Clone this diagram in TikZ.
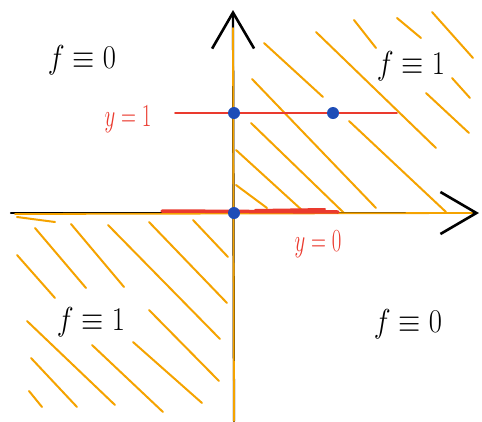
\documentclass[tikz,border=0pt]{standalone}
\usepackage{amsmath, amssymb}
\usepackage{graphicx}
\usepackage{tikz}
\usetikzlibrary{arrows.meta, positioning, calc}
\definecolor{hatchorange}{HTML}{F5A300}
\definecolor{penred}{HTML}{EA3A2E}
\definecolor{penblue}{HTML}{1E4DB7}
\newcommand{\bigtext}[1]{\scalebox{1.38}[1.6]{\huge #1}}
\newcommand{\redtext}[1]{\scalebox{1.0}[1.55]{\huge #1}}

\begin{document}
\begin{tikzpicture}[
    x=1pt, y=-1pt,
    line cap=round,
    axis/.style={
        draw=black,
        line width=2.2pt,
        -{Straight Barb[length=36pt, width=42pt, line width=2.6pt]}
    },
    axisline/.style={
        draw=hatchorange,
        line width=1.8pt
    },
    hatch/.style={
        draw=hatchorange,
        line width=2pt
    },
    redline/.style={
        draw=penred,
        line width=1.8pt
    },
    dot/.style={
        circle,
        fill=penblue,
        inner sep=0pt,
        minimum size=12pt
    },
    flabel/.style={
        text=black,
        inner sep=0pt
    },
    redlabel/.style={
        text=penred,
        inner sep=0pt
    }
]
\useasboundingbox (0,0) rectangle (482,421);

% Coordinates
\coordinate (O) at (234,213);
\coordinate (xStart) at (11,213);
\coordinate (xEnd) at (479,213);
\coordinate (yStart) at (234,421);
\coordinate (yEnd) at (233,10);

% Hatching, first quadrant
\foreach \a/\b/\c/\d in {264/43/323/97, 316/32/436/148, 354/20/376/48,
    397/18/421/38, 432/12/473/58, 452/78/470/98, 426/93/469/133,
    252/79/376/208, 251/123/344/213, 349/121/446/212, 236/150/304/212,
    236/185/267/208}
    \draw[hatch] (\a,\b) -- (\c,\d);

% Hatching, third quadrant
\foreach \a/\b/\c/\d in {17/217/55/222, 35/228/86/288, 71/224/124/287,
    108/225/220/339, 149/222/227/303, 193/220/228/257, 17/255/55/298,
    27/321/115/405, 92/345/163/412, 133/342/202/403, 149/310/219/381,
    31/358/77/407, 29/391/42/407}
    \draw[hatch] (\a,\b) -- (\c,\d);

% Axes
\draw[axis] (xStart) -- (xEnd);
\draw[axis] (yStart) -- (yEnd);
\draw[axisline] (15,214) -- (472,213);
\draw[axisline] (233,28) -- (234,421);

% Lines y=1 and y=0
\coordinate (redA) at (175,113);
\coordinate (redB) at (397,113);
\draw[redline] (redA) -- (redB);
\draw[redline, line width=3.5pt] (162,211) -- (338,212);
\draw[redline, line width=2pt] (255,210) -- (325,209);

% Points
\node[dot] (p1) at (234,113) {};
\node[dot] (p2) at (333,113) {};
\node[dot] (p0) at (O) {};

% Region labels
\node[flabel] (fTL) at (82,60) {\bigtext{$f\equiv 0$}};
\node[flabel] (fTR) at (411,66) {\bigtext{$f\equiv 1$}};
\node[flabel] (fBL) at (91,322) {\bigtext{$f\equiv 1$}};
\node[flabel] (fBR) at (408,324) {\bigtext{$f\equiv 0$}};

% Line labels
\node[redlabel] (y1) at (128,119) {\redtext{$y=1$}};
\node[redlabel] (y0) at (318,244) {\redtext{$y=0$}};

\end{tikzpicture}
\end{document}
